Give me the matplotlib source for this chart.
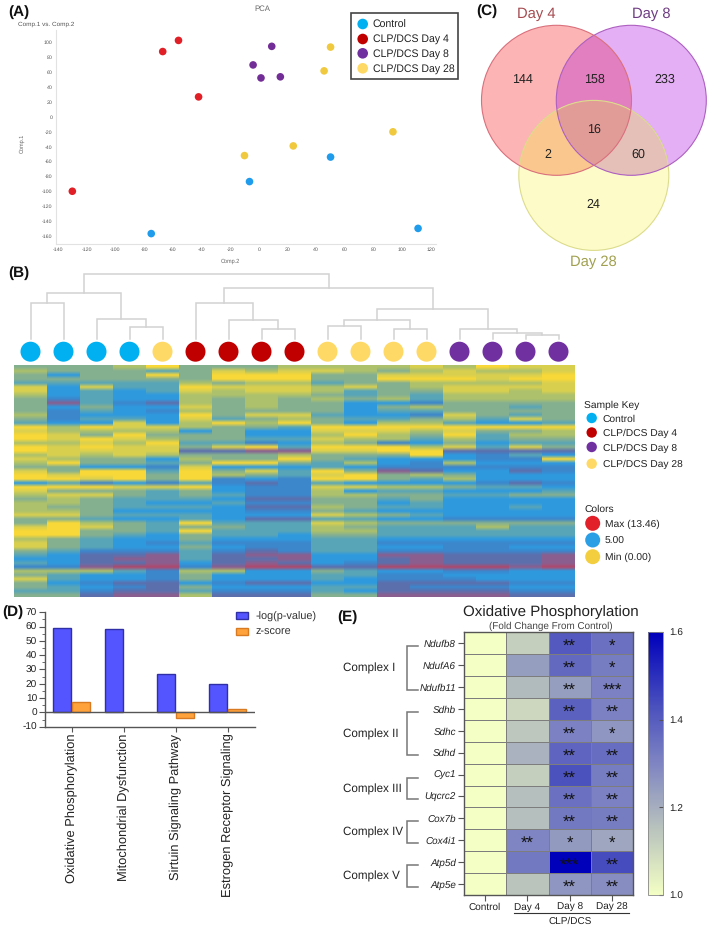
import numpy as np
import matplotlib
matplotlib.use("Agg")
import matplotlib.pyplot as plt
from matplotlib.colors import LinearSegmentedColormap
from matplotlib.patches import Circle, Polygon, Rectangle
from matplotlib.ticker import MultipleLocator

plt.rcParams["font.family"] = ["Liberation Sans", "DejaVu Sans"]
plt.rcParams["axes.unicode_minus"] = False
plt.rcParams["text.hinting"] = "none"

W, H = 709, 927

# (A) PCA scores, (Comp.2, Comp.1)
pca_groups = ["Control", "CLP/DCS Day 4", "CLP/DCS Day 8", "CLP/DCS Day 28"]
pca_colors = ["#1f9ceb", "#e01f26", "#732d96", "#f0c93f"]
key_colors = ["#00b0f0", "#c00000", "#7030a0", "#ffd966"]
pca_x = [[-75, -6.5, 50, 111], [-130, -67, -56, -42],
         [-4, 1.5, 9, 15], [-10, 24, 45.5, 50, 93.5]]
pca_y = [[-157, -87, -54, -150], [-100, 88, 103, 27],
         [70, 52.5, 95, 54], [-52, -39, 62, 94, -20]]

# (B) sample order and dendrogram merges (child a, child b, height)
# leaves are 0-16, merged nodes count on from 17
leaf_groups = [0, 0, 0, 0, 3, 1, 1, 1, 1, 3, 3, 3, 3, 2, 2, 2, 2]
merges = [
    (0, 1, 36), (3, 4, 12), (2, 18, 20), (17, 19, 46),
    (7, 8, 10), (6, 21, 19), (5, 22, 36),
    (9, 10, 13), (11, 12, 10), (24, 25, 19),
    (15, 16, 4), (14, 27, 6), (13, 28, 10), (26, 29, 30),
    (23, 30, 51), (20, 31, 65),
]

# heat levels, 0 = yellow ... 9 = red, one string per gene row
heat_rows = [
    "33320333222212011", "23334312112321221", "35330300033111110", "33333300033000100",
    "44444232243322221", "15144011121321111", "15454121124331121", "25455222234342222",
    "36455232323242222", "38467232335563333", "35355132335323343", "36456233335443333",
    "26555031145561343", "36445143234432413", "45515202035224554", "02011233400000000",
    "12222535511121332", "01303335520230422", "01012334412242433", "22120446523653544",
    "01011310400021413", "01111778811007777", "21212333233305645", "12335233034555660",
    "20334300342562555", "33556155545666666", "13004031403875576", "01003023410323555",
    "00103065600342555", "54656467645555676", "00011056611223445", "13334356625445554",
    "21134346622334433", "32344457733435555", "22345546633545555", "23344457723445545",
    "22355556634555555", "11344455512345555", "33455457744556666", "30234044412333333",
    "10134334423444244", "00334044422444444", "00345344533444444", "23455355544555555",
    "13456466644666666", "13455356644556655", "34666467644666666", "45778478855887778",
    "55788477855787778", "45778578756787778", "66899689977999989", "22246225534556655",
    "34556355544665555", "14556355545666555", "35677567755777766", "34567355544766655",
    "44677466645777766", "33788277733888877",
]
heat_colors = ["#f7d838", "#d8cf50", "#acc06c", "#85b090", "#58a5b8",
               "#2f9adf", "#3c86cc", "#5b70ae", "#8a5f90", "#b0486c"]

# (C) Venn counts
venn_names = ["Day 4", "Day 8", "Day 28"]
venn_counts = ["144", "158", "233", "16", "2", "60", "24"]

# (D) pathway enrichment
pathways = ["Oxidative Phosphorylation", "Mitochondrial Dysfunction",
            "Sirtuin Signaling Pathway", "Estrogen Receptor Signaling"]
log_p = [59, 58.5, 27, 20]
z_score = [7, np.nan, -4, 2.2]

# (E) fold change
genes = ["Ndufb8", "NdufA6", "Ndufb11", "Sdhb", "Sdhc", "Sdhd",
         "Cyc1", "Uqcrc2", "Cox7b", "Cox4i1", "Atp5d", "Atp5e"]
conditions = ["Control", "Day 4", "Day 8", "Day 28"]
fc_control = [1.0] * 12
fc_day4 = [1.12, 1.24, 1.17, 1.10, 1.14, 1.19, 1.12, 1.16, 1.16, 1.30, 1.33, 1.15]
fc_day8 = [1.41, 1.37, 1.24, 1.39, 1.31, 1.38, 1.43, 1.35, 1.33, 1.25, 1.60, 1.26]
fc_day28 = [1.35, 1.32, 1.31, 1.31, 1.26, 1.36, 1.32, 1.31, 1.32, 1.22, 1.44, 1.28]
stars_day4 = ["", "", "", "", "", "", "", "", "", "**", "", ""]
stars_day8 = ["**", "**", "**", "**", "**", "**", "**", "**", "**", "*", "***", "**"]
stars_day28 = ["*", "*", "***", "**", "*", "**", "**", "**", "**", "*", "**", "**"]
complexes = ["Complex I", "Complex II", "Complex III", "Complex IV", "Complex V"]


def ax_px(left, top, right, bottom):
    return fig.add_axes([left / W, 1 - bottom / H, (right - left) / W, (bottom - top) / H])


fig = plt.figure(figsize=(W / 100, H / 100), dpi=100)

# --- A ---
ax = ax_px(55.7, 30, 436, 244)
for xs, ys, c in zip(pca_x, pca_y, pca_colors):
    ax.scatter(xs, ys, s=30, color=c, edgecolor="none", zorder=3)
ax.set_xlim(-141.6, 123.5)
ax.set_ylim(-171, 117)
ax.set_xticks(np.arange(-140, 121, 20))
ax.set_yticks(np.arange(-160, 101, 20))
ax.tick_params(length=0, labelsize=3.8, labelcolor="#555555", pad=2.5)
for s in ["top", "right"]:
    ax.spines[s].set_visible(False)
for s in ["left", "bottom"]:
    ax.spines[s].set_color("#e2e2e2")

# --- B ---
ax = ax_px(14, 365, 575, 597)
heat = np.array([[int(ch) for ch in row] for row in heat_rows])
heat_cmap = LinearSegmentedColormap.from_list("heat", heat_colors)
# widen the columns first so bilinear only softens the rows
ax.imshow(np.repeat(heat, 33, axis=1), aspect="auto", cmap=heat_cmap, vmin=0, vmax=9,
          interpolation="bilinear")
ax.axis("off")

ax = ax_px(14, 273, 575, 339)
ax.set_xlim(0, 17)
ax.set_ylim(0, 66)
ax.axis("off")
node_x = [i + 0.5 for i in range(17)]
node_h = [0] * 17
for a, b, h in merges:
    ax.plot([node_x[a], node_x[a], node_x[b], node_x[b]],
            [node_h[a], h, h, node_h[b]], color="#d2d2d2", lw=1.1,
            solid_joinstyle="miter", clip_on=False)
    node_x.append((node_x[a] + node_x[b]) / 2)
    node_h.append(h)

# --- D ---
ax = ax_px(44.7, 612.3, 255, 726.7)
xpos = np.arange(len(pathways))
ax.bar(xpos - 0.185, log_p, 0.33, color="#5555ff", edgecolor="#2f2fa8", lw=1)
ax.bar(xpos + 0.18, z_score, 0.33, color="#ffa23c", edgecolor="#d87a22", lw=1)
ax.axhline(0, color="#555555", lw=1)
ax.set_xlim(-0.519, 3.525)
ax.set_ylim(-10, 70)
ax.set_xticks(xpos)
ax.set_xticklabels(pathways, rotation=90, fontsize=9.3, color="#222222")
ax.yaxis.set_major_locator(MultipleLocator(10))
ax.yaxis.set_minor_locator(MultipleLocator(5))
ax.tick_params(axis="y", labelsize=7.3, color="#555555", length=4, pad=1.5, labelcolor="#222222")
ax.tick_params(axis="y", which="minor", color="#555555", length=2.5)
ax.tick_params(axis="x", color="#555555", length=3.5, pad=1.5)
for s in ["top", "right"]:
    ax.spines[s].set_visible(False)
for s in ["left", "bottom"]:
    ax.spines[s].set_color("#555555")
    ax.spines[s].set_linewidth(1)

# --- E ---
ax = ax_px(463.7, 632.3, 633.3, 895)
fold = np.array([fc_control, fc_day4, fc_day8, fc_day28]).T
fc_cmap = LinearSegmentedColormap.from_list(
    "fc", [(0, "#f3ffc4"), (0.25, "#b9c3bd"), (0.5, "#7f85c2"), (0.72, "#4a50bd"), (1, "#0000bb")])
mesh = ax.pcolormesh(fold, cmap=fc_cmap, vmin=1, vmax=1.6, edgecolors="#7d7d7d", linewidth=0.5)
ax.invert_yaxis()
ax.set_xticks(np.arange(4) + 0.5)
ax.set_xticklabels(conditions, fontsize=7.2, color="#222222")
ax.set_yticks(np.arange(12) + 0.5)
ax.set_yticklabels(genes, fontsize=7.1, style="italic", color="#222222")
ax.tick_params(axis="both", length=4, color="#555555", pad=1.5)
for s in ax.spines.values():
    s.set_color("#555555")
    s.set_linewidth(1)
for col, labels in zip([1, 2, 3], [stars_day4, stars_day8, stars_day28]):
    for row, lab in enumerate(labels):
        ax.text(col + 0.5, row + 0.66, lab, ha="center", va="center", fontsize=12, color="#111111")

cax = ax_px(648.3, 632.3, 662.7, 895)
cb = fig.colorbar(mesh, cax=cax)
cb.set_ticks([1.0, 1.2, 1.4, 1.6])
cb.ax.set_yticklabels(["1.0", "1.2", "1.4", "1.6"], fontsize=7.2, color="#222222")
cb.ax.tick_params(direction="in", length=3, color="#555555", pad=4.5)
cb.outline.set_edgecolor("#888888")
cb.outline.set_linewidth(0.6)

# --- overlay in pixel coordinates: panel letters, legends, Venn ---
ov = fig.add_axes([0, 0, 1, 1], facecolor="none")
ov.set_xlim(0, W)
ov.set_ylim(H, 0)
ov.axis("off")

for lab, x, y in [("(A)", 8, 12), ("(B)", 8, 273.5), ("(C)", 476.7, 11), ("(D)", 2, 612.5), ("(E)", 337, 617)]:
    ov.text(x, y, lab, fontsize=11, fontweight="bold", va="center", color="#111111")

# A texts and legend
ov.text(262, 9.3, "PCA", fontsize=5.6, color="#666666", ha="center", va="center")
ov.text(18, 24, "Comp.1 vs. Comp.2", fontsize=4.6, color="#555555", va="center")
ov.text(230, 261, "Comp.2", fontsize=4, color="#666666", ha="center", va="center")
ov.text(22, 143, "Comp.1", fontsize=4, color="#666666", ha="center", va="center", rotation=90)
ov.add_patch(Rectangle((351, 13.3), 106.7, 65.4, fc="white", ec="#444444", lw=1.2))
for name, c, y in zip(pca_groups, key_colors, [24, 39, 53.3, 68.3]):
    ov.add_patch(Circle((362.7, y), 5.3, fc=c, ec="none"))
    ov.text(372.7, y + 4.2, name, fontsize=7.6, color="#222222", va="baseline")

# B circles and key
for i, g in enumerate(leaf_groups):
    ov.add_patch(Circle((14 + 33 * (i + 0.5), 351.7), 10, fc=key_colors[g], ec="none"))
ov.text(584.3, 408.4, "Sample Key", fontsize=7.4, color="#222222", va="baseline")
for name, c, y in zip(pca_groups, key_colors, [418, 432.5, 447, 463.7]):
    ov.add_patch(Circle((591.7, y), 5.2, fc=c, ec="none"))
    ov.text(602.7, y + 3.7, name, fontsize=7.4, color="#222222", va="baseline")
ov.text(584.3, 512, "Colors", fontsize=7.4, color="#222222", va="baseline")
for name, c, y in zip(["Max (13.46)", "5.00", "Min (0.00)"], ["#e1202a", "#2a9fe6", "#f3cf3f"], [523.3, 540, 556.7]):
    ov.add_patch(Circle((592.7, y), 7.5, fc=c, ec="none"))
    ov.text(605, y + 3.7, name, fontsize=7.4, color="#222222", va="baseline")

# C Venn, one flat colour per region
r = 75
ca, cb_, cc = (556.5, 100.3), (631.3, 100.3), (593.8, 175.4)
a = Circle(ca, r, fc="#fdb4b4", ec="none")
b = Circle(cb_, r, fc="#e4aff5", ec="none")
c = Circle(cc, r, fc="#fdfbc8", ec="none")
for p in [c, b, a]:
    ov.add_patch(p)
for center, clip, col in [(ca, b, "#e27fc0"), (ca, c, "#fac88f"), (cb_, c, "#e4c0b8")]:
    p = Circle(center, r, fc=col, ec="none")
    ov.add_patch(p)
    p.set_clip_path(clip)
# AB lens outline, used to clip the centre region
t = np.linspace(0, 2 * np.pi, 720)
pa = np.c_[ca[0] + r * np.cos(t), ca[1] + r * np.sin(t)]
pb = np.c_[cb_[0] + r * np.cos(t), cb_[1] + r * np.sin(t)]
lens = np.r_[pa[np.hypot(*(pa - cb_).T) <= r], pb[np.hypot(*(pb - ca).T) <= r]]
mid = lens.mean(axis=0)
lens = lens[np.argsort(np.arctan2(lens[:, 1] - mid[1], lens[:, 0] - mid[0]))]
lens_patch = Polygon(lens, closed=True, fc="none", ec="none")
ov.add_patch(lens_patch)
p = Circle(cc, r, fc="#e29c98", ec="none")
ov.add_patch(p)
p.set_clip_path(lens_patch)
for center, edge in zip([cc, cb_, ca], ["#dcdc8c", "#ad60c0", "#d9707c"]):
    ov.add_patch(Circle(center, r, fc="none", ec=edge, lw=0.8))
for name, x, y, col in zip(venn_names, [536.7, 651, 593.7], [14, 14, 262], ["#a64b50", "#6e3c82", "#a0a050"]):
    ov.text(x, y, name, fontsize=10.6, color=col, ha="center", va="center")
count_x = [522.7, 594, 665, 594, 548.3, 638.7, 593.7]
count_y = [79.3, 79.3, 79.3, 129.3, 154.3, 154.3, 204.3]
for lab, x, y in zip(venn_counts, count_x, count_y):
    ov.text(x, y, lab, fontsize=9, color="#222222", ha="center", va="center")

# D legend
for lab, fc_, ec_, y in [("-log(p-value)", "#5555ff", "#2f2fa8", 615.7), ("z-score", "#ffa23c", "#d87a22", 631)]:
    ov.add_patch(Rectangle((236, y - 3.5), 12, 7, fc=fc_, ec=ec_, lw=1))
    ov.text(255.7, y + 3.8, lab, fontsize=7.8, color="#333333", va="baseline")

# E titles and brackets
ov.text(550.5, 612.5, "Oxidative Phosphorylation", fontsize=10.9, color="#222222", ha="center", va="center")
ov.text(550.5, 626, "(Fold Change From Control)", fontsize=7.1, color="#444444", ha="center", va="center")
bracket_top = [646.3, 712, 777.7, 821.3, 865.3]
bracket_bot = [689.7, 755.3, 799.3, 843.3, 886.7]
label_y = [668.3, 734.3, 789, 832.3, 876]
for name, y0, y1, ly in zip(complexes, bracket_top, bracket_bot, label_y):
    ov.plot([418, 407, 407, 418], [y0, y0, y1, y1], color="#777777", lw=1.1, solid_joinstyle="miter")
    ov.text(342.7, ly, name, fontsize=8.4, color="#222222", va="center")
ov.plot([514, 629], [913.3, 913.3], color="#333333", lw=0.8)
ov.text(570, 921.5, "CLP/DCS", fontsize=7.2, color="#222222", ha="center", va="center")

fig.savefig("out.png", dpi=100)
